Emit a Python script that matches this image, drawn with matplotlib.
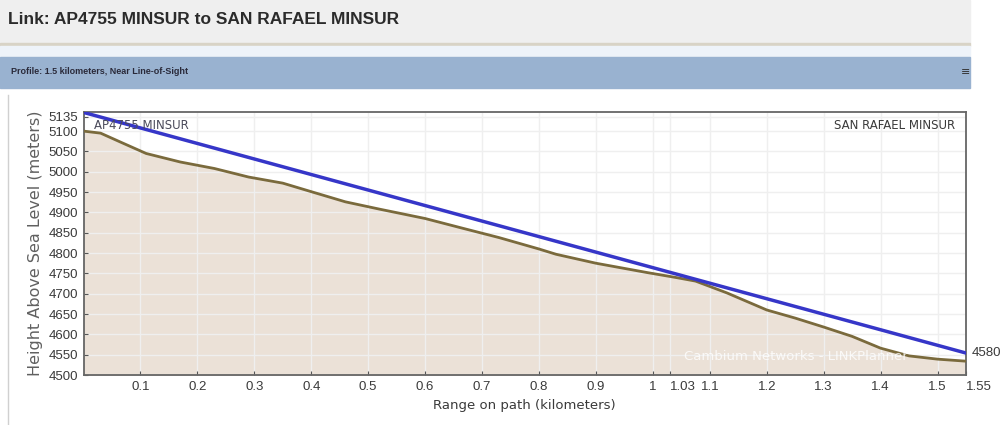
import matplotlib
matplotlib.use("Agg")
import matplotlib.pyplot as plt
from matplotlib.patches import Rectangle
from matplotlib.lines import Line2D

# Perfil del enlace (lecturas aproximadas del gráfico)
dist_km = [0, 0.03, 0.065, 0.11, 0.17, 0.23, 0.29, 0.35, 0.4, 0.46, 0.52,
           0.6, 0.666, 0.73, 0.8, 0.83, 0.9, 0.99, 1.04, 1.075, 1.13, 1.2,
           1.25, 1.3, 1.35, 1.4, 1.45, 1.5, 1.55]
terrain_m = [5100, 5095, 5073, 5045, 5024, 5008, 4987, 4972, 4951, 4926, 4908,
             4885, 4861, 4838, 4810, 4797, 4775, 4752, 4740, 4731, 4702, 4660,
             4640, 4618, 4595, 4566, 4547, 4539, 4534]
los_km = [0, 1.55]
los_m = [5146, 4554]

xticks = [0.1, 0.2, 0.3, 0.4, 0.5, 0.6, 0.7, 0.8, 0.9, 1, 1.03, 1.1, 1.2, 1.3,
          1.4, 1.5, 1.55]
xtick_labels = ["0.1", "0.2", "0.3", "0.4", "0.5", "0.6", "0.7", "0.8", "0.9",
                "1", "1.03", "1.1", "1.2", "1.3", "1.4", "1.5", "1.55"]
yticks = [4500, 4550, 4600, 4650, 4700, 4750, 4800, 4850, 4900, 4950, 5000,
          5050, 5100, 5135]

W, H = 1007, 425
fig = plt.figure(figsize=(W / 100, H / 100), dpi=100)
fig.patch.set_facecolor("white")

# ---- cabecera ----
def band(y0, y1, color, x1=970):
    fig.patches.append(Rectangle((0, 1 - y1 / H), x1 / W, (y1 - y0) / H,
                                 transform=fig.transFigure, color=color,
                                 zorder=0))

band(0, 43, "#efefef")
band(43, 46, "#d8d3c6")
band(46, 57, "#eef3f9")
band(57, 88, "#99b2d0")
fig.lines.append(Line2D([8 / W, 8 / W], [0, 1 - 95 / H],
                        transform=fig.transFigure, color="#d0d0d0", lw=1))

fig.text(8 / W, 1 - 19 / H, "Link: AP4755 MINSUR to SAN RAFAEL MINSUR",
         fontsize=12.5, fontweight="bold", family="Liberation Sans",
         color="#2b2b2b", va="center", ha="left")
fig.text(11 / W, 1 - 72 / H, "Profile: 1.5 kilometers, Near Line-of-Sight",
         fontsize=6.5, fontweight="bold", family="Liberation Sans",
         color="#2a2a3a", va="center", ha="left")
fig.text(966 / W, 1 - 72 / H, "\u2261", fontsize=8, color="#333333",
         va="center", ha="center")

# ---- gráfico ----
ax = fig.add_axes([83.5 / W, 1 - 375 / H, (966 - 83.5) / W, (375 - 112) / H])
ax.set_facecolor("white")
ax.fill_between(dist_km, terrain_m, 4400, color="#ebe1d7", zorder=1)
ax.grid(True, color="#efefef", lw=1, zorder=2)
ax.plot(dist_km, terrain_m, color="#7a6a3c", lw=2, zorder=3,
        solid_joinstyle="round")
ax.plot(los_km, los_m, color="#3636c8", lw=2.5, zorder=4)

ax.set_xlim(0, 1.55)
ax.set_ylim(4500, 5147)
ax.set_xticks(xticks)
ax.set_xticklabels(xtick_labels)
ax.set_yticks(yticks)
ax.tick_params(direction="in", length=3, colors="#555555", labelsize=9,
               labelcolor="#3a3a3a", pad=4)
for lbl in ax.get_xticklabels() + ax.get_yticklabels():
    lbl.set_family("Liberation Sans")
    lbl.set_fontsize(9.5)
xl = ax.get_xticklabels()
xl[10].set_horizontalalignment("left")
xl[16].set_horizontalalignment("left")
for s in ax.spines.values():
    s.set_color("#666666")
    s.set_linewidth(1.3)

ax.set_xlabel("Range on path (kilometers)", fontsize=9.5, color="#3a3a3a",
              labelpad=5)
ax.set_ylabel("Height Above Sea Level (meters)", fontsize=11.5,
              color="#606060", labelpad=4)

ax.text(0.012, 0.975, "AP4755 MINSUR", transform=ax.transAxes, fontsize=8.5,
        color="#4a4a5a", va="top", ha="left", zorder=5)
ax.text(0.988, 0.975, "SAN RAFAEL MINSUR", transform=ax.transAxes,
        fontsize=8.5, color="#3a3a3a", va="top", ha="right", zorder=5)
ax.text(1.006, 4554, "4580", transform=ax.get_yaxis_transform(),
        fontsize=9.5, family="Liberation Sans", color="#3a3a3a",
        va="center", ha="left", clip_on=False)
ax.text(0.807, 0.07, "Cambium Networks - LINKPlanner",
        transform=ax.transAxes, fontsize=9.5, color="white", alpha=0.8,
        va="center", ha="center", zorder=5)

fig.savefig("out.png", dpi=100)
